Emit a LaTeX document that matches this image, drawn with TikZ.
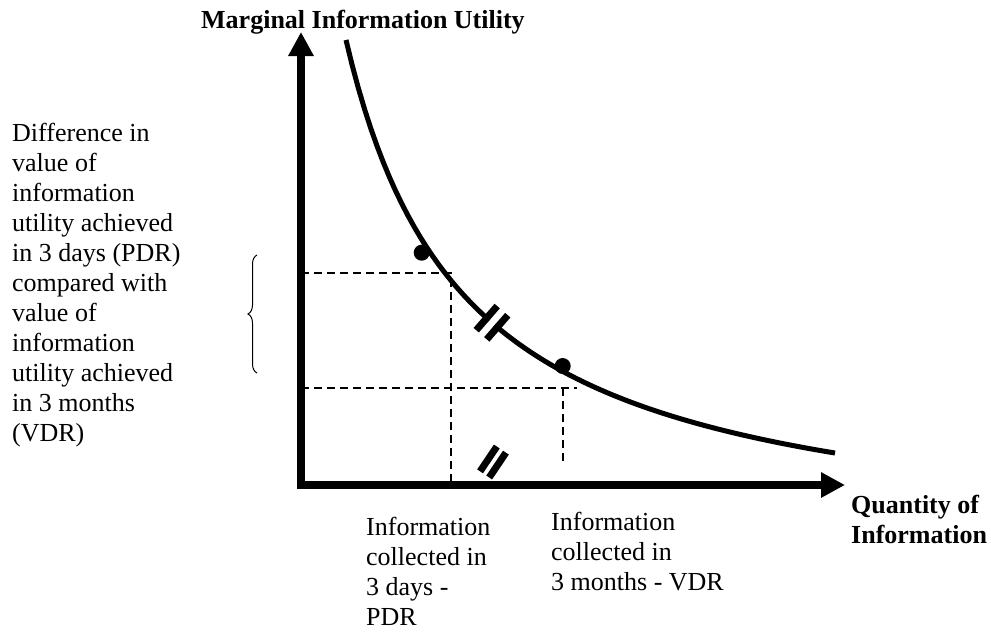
\documentclass[tikz,border=0pt]{standalone}
\usepackage{fontspec}
\setmainfont{Liberation Serif}
\usetikzlibrary{arrows.meta, decorations.pathreplacing, calc, positioning}

\tikzset{
	every node/.style={font=\fontsize{26}{30}\selectfont, inner sep=0pt, align=left},
	axistitle/.style={font=\fontsize{26}{30}\selectfont\bfseries},
	axisline/.style={line width=8pt, -{Triangle[length=24pt, width=24pt]}},
	utilcurve/.style={line width=5pt},
	guide/.style={line width=2pt, dash pattern=on 8pt off 5pt},
	breakbar/.style={line width=7pt},
}

\begin{document}
\begin{tikzpicture}[x=1pt, y=-1pt]
	\useasboundingbox (0,0) rectangle (991,632);
	\pgfmathsetmacro{\originx}{301}
	\pgfmathsetmacro{\originy}{485}
	\coordinate (origin) at (\originx,\originy);
	\coordinate (ybottom) at (\originx,\originy+4);
	\coordinate (ytop) at (\originx,32);
	\coordinate (xleft) at (\originx-4,\originy);
	\coordinate (xright) at (845,\originy);
	\coordinate (pdr) at (450.7,272.7);
	\coordinate (vdr) at (563,388.3);

	%% guide lines
	\draw[guide] (pdr -| origin) -- (pdr) -- (pdr |- origin);
	\draw[guide] (vdr -| origin) -- ($(vdr)+(14,0)$);
	\draw[guide] (vdr) -- (563,465);

	%% axes
	\draw[axisline] (ybottom) -- (ytop);
	\draw[axisline] (xleft) -- (xright);

	%% utility curve
	\draw[utilcurve] plot[domain=346:835, samples=80] (\x, {553.8 - 613/((\x-226.7)/100)});
	\fill (421.7,252.7) circle[radius=8pt];
	\fill (562.7,366) circle[radius=8pt];

	%% break on the curve
	\begin{scope}[shift={(492,322.7)}, rotate=-41]
		\fill[white] (-3.5,-10) rectangle (3.5,10);
		\fill (-10.5,-16) rectangle (-3.5,16);
		\fill (3.5,-16) rectangle (10.5,16);
	\end{scope}
	%% break near the axis
	\begin{scope}[shift={(493,462)}, rotate=56]
		\draw[breakbar] (-15,-5.5) -- (15,-5.5);
		\draw[breakbar] (-15,5.5) -- (15,5.5);
	\end{scope}

	%% brace
	\draw[decorate, decoration={brace, amplitude=9pt}, line width=1pt] (257,373) -- (257,255);

	%% labels
	\node[axistitle, anchor=base west] (ytitle) at (201,28) {Marginal Information Utility};
	\node[axistitle, anchor=north west] (xtitle) at (851,495) {Quantity of\\Information};
	\node[anchor=north west] (diffnote) at (12,123) {Difference in\\value of\\information\\utility achieved\\in 3 days (PDR)\\compared with\\value of\\information\\utility achieved\\in 3 months\\(VDR)};
	\node[anchor=north west] (pdrnote) at (366,517) {Information\\collected in\\3 days -\\PDR};
	\node[anchor=north west] (vdrnote) at (551,512) {Information\\collected in\\3 months - VDR};
\end{tikzpicture}
\end{document}
